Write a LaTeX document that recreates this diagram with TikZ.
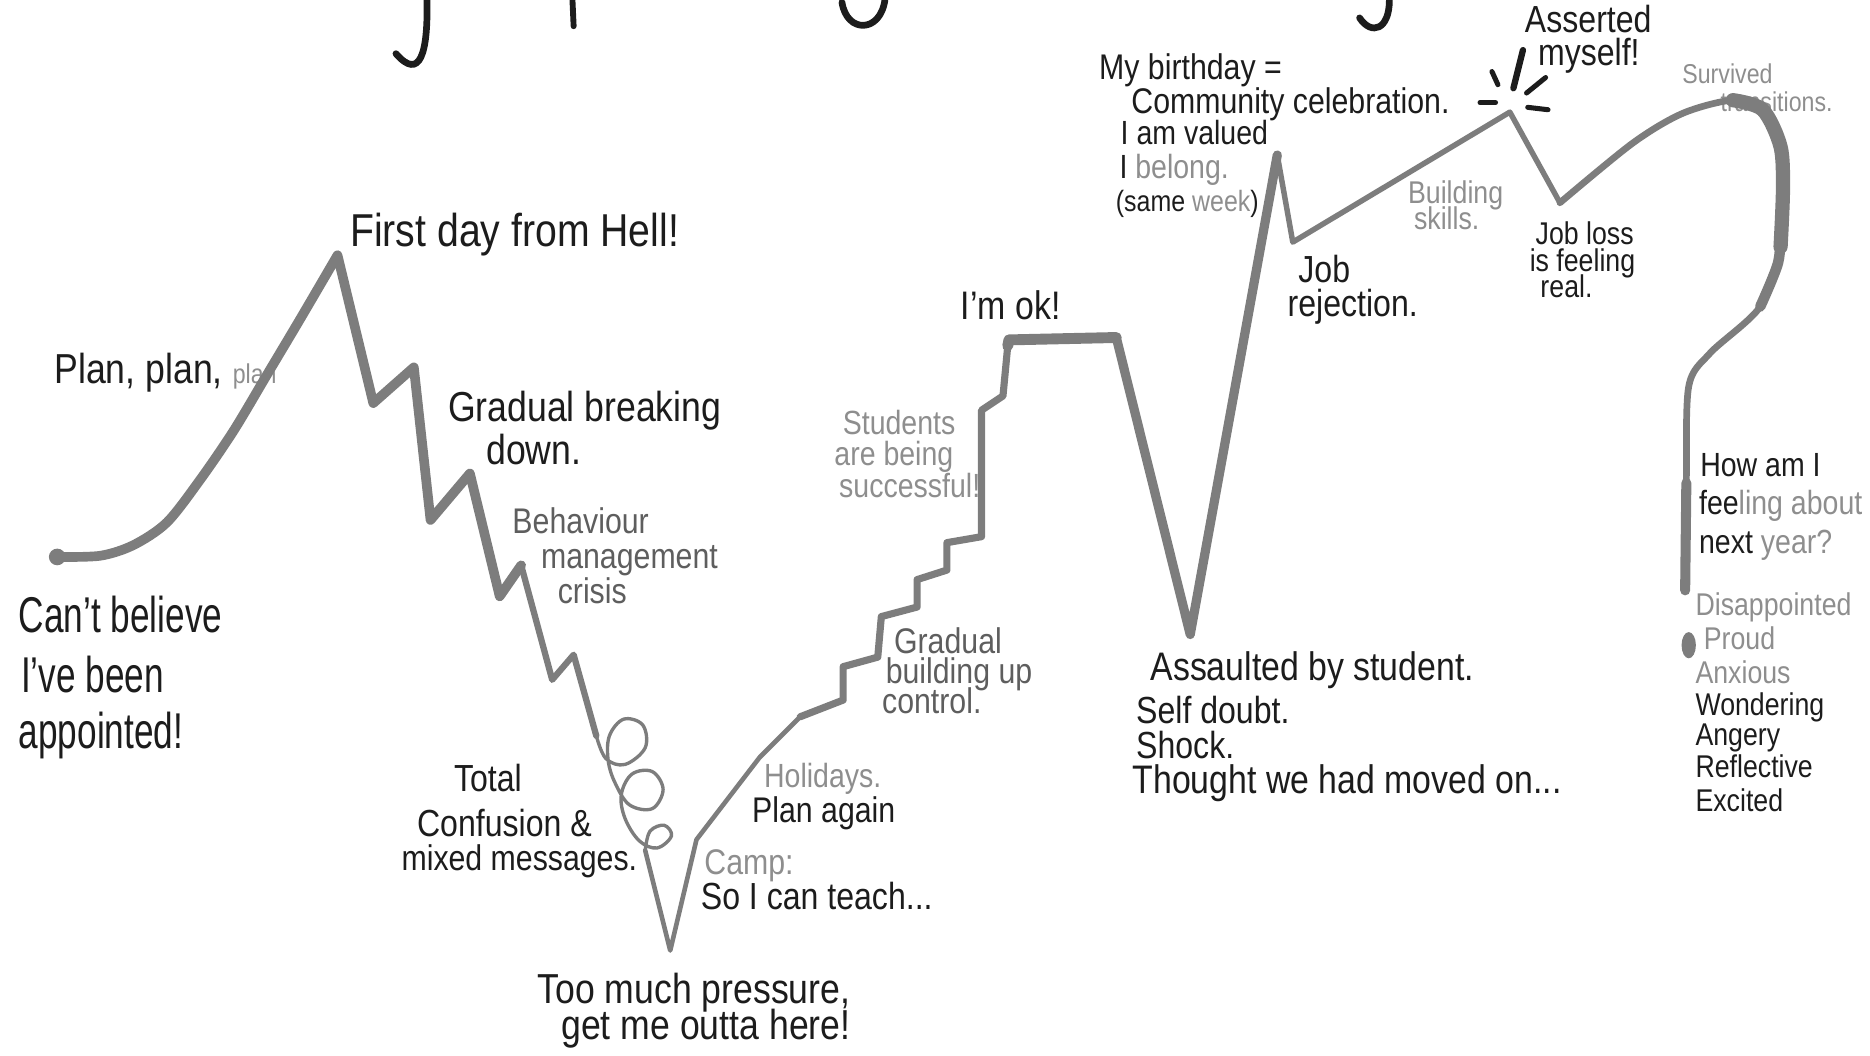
\documentclass[tikz,border=0pt]{standalone}
\usepackage{fontspec}
\setmainfont[FakeStretch=0.85]{Liberation Sans}
\newfontfamily\tallhand[FakeStretch=0.7, Ligatures=TeX]{Liberation Sans}
\definecolor{lead}{HTML}{7D7D7D}
\definecolor{ink}{HTML}{1C1C1C}
\definecolor{pencil}{HTML}{5E5E5E}
\definecolor{faded}{HTML}{8E8E8E}
\newcommand{\penfs}[1]{\fontsize{#1}{#1}\selectfont}
\tikzset{
  note/.style={anchor=mid west, inner sep=0pt, text=ink},
  soft/.style={note, text=pencil},
  pale/.style={note, text=faded},
  trace/.style={draw=lead, line cap=round, line join=round},
  scrawl/.style={draw=ink, line cap=round, line width=1.2pt},
}
\begin{document}
\begin{tikzpicture}[x=0.1mm, y=-0.1mm]
  \useasboundingbox (0,0) rectangle (1568,885);
  \draw[scrawl, line width=1.6pt] (358,0) .. controls (359,45) and (352,68) .. (332,45);
  \draw[scrawl, line width=1.4pt] (480,0) -- (481,22);
  \draw[scrawl, line width=1.6pt] (706,2) .. controls (710,28) and (738,28) .. (742,0);
  \draw[scrawl, line width=1.6pt] (1165,0) .. controls (1165,25) and (1150,30) .. (1140,15);
  \node[note, font=\penfs{10}] (plan) at (45,312) {Plan, plan, {\penfs{6.5}\color{faded}plan}};
  \node[note, font=\penfs{11}] (first) at (293,197) {First day from Hell!};
  \node[note, font=\tallhand\penfs{12}] (cant1) at (15,521) {Can't believe};
  \node[note, font=\tallhand\penfs{12}] (cant2) at (17,571) {I've been};
  \node[note, font=\tallhand\penfs{12}] (cant3) at (15,618) {appointed!};
  \node[note, font=\penfs{10}] (break1) at (375,344) {Gradual breaking};
  \node[note, font=\penfs{10}] (break2) at (407,380) {down.};
  \node[soft, font=\penfs{8.5}] (crisis1) at (429,438) {Behaviour};
  \node[soft, font=\penfs{8.5}] (crisis2) at (453,467) {management};
  \node[soft, font=\penfs{8.5}] (crisis3) at (467,497) {crisis};
  \node[note, font=\penfs{9}] (total1) at (380,654) {Total};
  \node[note, font=\penfs{9}] (total2) at (349,692) {Confusion \&};
  \node[note, font=\penfs{8.5}] (total3) at (336,721) {mixed messages.};
  \node[note, font=\penfs{10}] (press1) at (450,832) {Too much pressure,};
  \node[note, font=\penfs{10}] (press2) at (470,862) {get me outta here!};
  \node[pale, font=\penfs{8}] (hol1) at (640,651) {Holidays.};
  \node[note, font=\penfs{8.5}] (hol2) at (630,680) {Plan again};
  \node[pale, font=\penfs{8.5}] (camp1) at (590,724) {Camp:};
  \node[note, font=\penfs{9}] (camp2) at (587,753) {So I can teach...};
  \node[soft, font=\penfs{8.5}] (ctrl1) at (749,539) {Gradual};
  \node[soft, font=\penfs{8.5}] (ctrl2) at (742,564) {building up};
  \node[soft, font=\penfs{8.5}] (ctrl3) at (739,589) {control.};
  \node[pale, font=\penfs{8}] (succ1) at (706,355) {Students};
  \node[pale, font=\penfs{8}] (succ2) at (699,381) {are being};
  \node[pale, font=\penfs{8}] (succ3) at (703,408) {successful!};
  \node[note, font=\penfs{9.5}] (ok) at (805,259) {I'm ok!};
  \node[note, font=\penfs{9.5}] (hit1) at (964,561) {Assaulted by student.};
  \node[note, font=\penfs{9}] (hit2) at (952,597) {Self doubt.};
  \node[note, font=\penfs{9}] (hit3) at (952,627) {Shock.};
  \node[note, font=\penfs{9.5}] (hit4) at (949,656) {Thought we had moved on...};
  \node[note, font=\penfs{8.5}] (bday1) at (921,57) {My birthday =};
  \node[note, font=\penfs{8.5}] (bday2) at (948,86) {Community celebration.};
  \node[note, font=\penfs{8}] (bday3) at (939,112) {I am valued};
  \node[note, font=\penfs{8}] (bday4) at (938,140) {I {\color{faded}belong.}};
  \node[note, font=\penfs{7}] (bday5) at (935,168) {(same {\color{faded}week})};
  \node[note, font=\penfs{9}] (rej1) at (1088,228) {Job};
  \node[note, font=\penfs{9}] (rej2) at (1079,256) {rejection.};
  \node[pale, font=\penfs{7.5}] (skill1) at (1180,161) {Building};
  \node[pale, font=\penfs{7.5}] (skill2) at (1185,183) {skills.};
  \node[note, font=\penfs{9}] (assert1) at (1278,18) {Asserted};
  \node[note, font=\penfs{9}] (assert2) at (1289,46) {myself!};
  \node[note, font=\penfs{7.5}] (loss1) at (1287,196) {Job loss};
  \node[note, font=\penfs{7.5}] (loss2) at (1282,218) {is feeling};
  \node[note, font=\penfs{7.5}] (loss3) at (1291,240) {real.};
  \node[pale, font=\penfs{6.5}] (surv1) at (1410,61) {Survived};
  \node[pale, font=\penfs{6.5}] (surv2) at (1442,84) {transitions.};
  \node[note, font=\penfs{8}] (next1) at (1425,390) {How am I};
  \node[note, font=\penfs{8}] (next2) at (1424,422) {fee{\color{faded}ling about}};
  \node[note, font=\penfs{8}] (next3) at (1424,455) {next {\color{faded}year?}};
  \node[pale, font=\penfs{7.5}] (mood1) at (1421,507) {Disappointed};
  \node[pale, font=\penfs{7.5}] (mood2) at (1428,535) {Proud};
  \node[pale, font=\penfs{7.5}] (mood3) at (1421,564) {Anxious};
  \node[note, font=\penfs{7.5}] (mood4) at (1421,591) {Wondering};
  \node[note, font=\penfs{7.5}] (mood5) at (1421,616) {Angery};
  \node[note, font=\penfs{7.5}] (mood6) at (1421,643) {Reflective};
  \node[note, font=\penfs{7.5}] (mood7) at (1421,671) {Excited};
  \fill[lead] (48,467) circle (0.7mm);
  \draw[trace, line width=2.3pt] plot[smooth] coordinates {(46,467) (84,466) (112,457) (140,438) (168,402) (196,361) (224,314) (252,267) (283,214)} -- (313,338) -- (347,308) -- (361,436) -- (394,397) -- (419,500) -- (437,474);
  \draw[trace, line width=1.5pt] (437,474) -- (463,570) -- (481,549) -- (500,617);
  \draw[trace, line width=0.8pt] plot[smooth, tension=0.6] coordinates {(500,617) (508,636) (524,641) (541,627) (539,608) (523,603) (511,617) (510,638) (516,657) (528,675) (547,678) (556,662) (547,647) (530,649) (521,666) (524,686) (536,705) (551,711) (563,701) (557,692) (545,697) (541,713)};
  \draw[trace, line width=1.1pt] (541,713) -- (562,797) -- (584,704) -- (637,635) -- (671,601);
  \draw[trace, line width=1.7pt] (671,601) -- (707,587) -- (707,559) -- (736,551) -- (739,517) -- (769,509) -- (769,486) -- (794,478) -- (794,455) -- (823,450) -- (823,344) -- (841,332) -- (845,290);
  \draw[trace, line width=2.6pt] (845,290) -- (846,285) -- (936,283);
  \draw[trace, line width=2.2pt] (936,283) -- (998,532) -- (1071,130);
  \draw[trace, line width=1.3pt] (1071,130) -- (1084,203) -- (1266,94) -- (1308,170);
  \draw[trace, line width=1.6pt] plot[smooth] coordinates {(1308,170) (1369,120) (1411,95) (1453,84) (1478,92) (1493,123) (1495,159) (1493,207) (1476,257) (1434,296) (1416,324) (1414,402) (1413,495)};
  \draw[trace, line width=3.4pt] plot[smooth] coordinates {(1453,84) (1478,92) (1493,123) (1495,159) (1493,207)};
  \draw[trace, line width=2.5pt] plot[smooth] coordinates {(1493,190) (1491,220) (1476,257)};
  \draw[trace, line width=2.4pt] (1414,405) -- (1413,495);
  \fill[lead] (1416,541) ellipse (0.6mm and 1.1mm);
  \draw[scrawl] (1251,60) -- (1256,71);
  \draw[scrawl, line width=1.5pt] (1277,42) -- (1269,74);
  \draw[scrawl] (1296,65) -- (1280,78);
  \draw[scrawl] (1241,86) -- (1254,86);
  \draw[scrawl] (1281,90) -- (1298,92);
\end{tikzpicture}
\end{document}
